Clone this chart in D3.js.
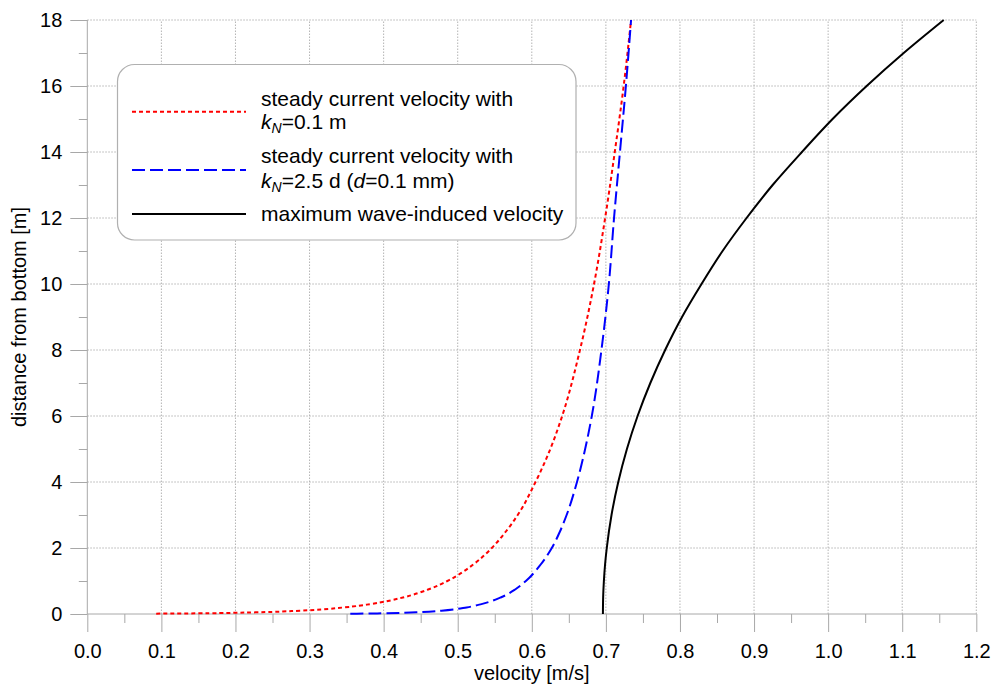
<!DOCTYPE html>
<html>
<head>
<meta charset="utf-8">
<script src="https://cdn.jsdelivr.net/npm/d3@7"></script>
<style>
  body { margin: 0; background: #fff; }
  svg { display: block; font-family: "Liberation Sans", Arial, sans-serif; }
</style>
</head>
<body>
<div id="chart"></div>
<script>
'use strict';

// data ---------------------------------------------------
// steady current velocity, kN = 0.1 m
const zRed   = [0.0106, 0.02, 0.05, 0.1, 0.2, 0.3, 0.5, 0.75, 1, 1.5, 2, 2.5, 3, 4, 5, 6, 8, 10, 12, 14, 16, 18]
const vRed   = [0.093, 0.148, 0.227, 0.287, 0.347, 0.382, 0.426, 0.461, 0.486, 0.521, 0.546, 0.565, 0.581, 0.605, 0.625, 0.641, 0.665, 0.684, 0.699, 0.712, 0.724, 0.734]
// steady current velocity, kN = 2.5 d
const zBlue  = [0.0085, 0.01, 0.02, 0.05, 0.1, 0.2, 0.3, 0.5, 0.75, 1, 1.5, 2, 2.5, 3, 4, 5, 6, 8, 10, 12, 14, 16, 18]
const vBlue  = [0.355, 0.364, 0.398, 0.444, 0.478, 0.512, 0.532, 0.558, 0.578, 0.592, 0.612, 0.627, 0.638, 0.647, 0.661, 0.672, 0.681, 0.694, 0.704, 0.711, 0.719, 0.727, 0.734]
// maximum wave-induced velocity
const zBlack = [0, 0.5, 1, 1.5, 2, 3, 4, 5, 6, 7, 8, 9, 10, 11, 12, 13, 14, 15, 16, 17, 18]
const vBlack = [0.696, 0.6963, 0.6973, 0.6989, 0.7012, 0.7076, 0.7167, 0.7284, 0.7428, 0.760, 0.780, 0.8028, 0.8291, 0.8575, 0.8899, 0.9251, 0.9646, 1.006, 1.052, 1.102, 1.156]

const xMajor = d3.range(0, 13).map(i => i / 10)
const xMinor = d3.range(0, 12).map(i => i / 10 + 0.05)
const yMajor = d3.range(0, 19, 2)
const yMinor = d3.range(1, 19, 2)

// layout ---------------------
const W = 995, H = 685
const padLeft = 87.3, padRight = 976.3, padTop = 20, padBottom = 614
const axis_color = '#a8a8a8'
const grid_color = '#b4b4b4'

const svg = d3.select('#chart').append('svg')
    .attr('width', W)
    .attr('height', H)

const x = d3.scaleLinear().domain([0, 1.2]).range([padLeft, padRight])
const y = d3.scaleLinear().domain([0, 18]).range([padBottom, padTop])

// grid
const grid = svg.append('g')
grid.selectAll('line.gx').data(xMajor.slice(1)).enter().append('line')
    .attr('x1', d => x(d)).attr('x2', d => x(d))
    .attr('y1', y(0)).attr('y2', y(18))
    .attr('stroke', grid_color).attr('stroke-width', 1).attr('stroke-dasharray', '1.5,1.5')
grid.selectAll('line.gy').data(yMajor.slice(1)).enter().append('line')
    .attr('x1', x(0)).attr('x2', x(1.2))
    .attr('y1', d => y(d)).attr('y2', d => y(d))
    .attr('stroke', grid_color).attr('stroke-width', 1).attr('stroke-dasharray', '1.5,1.5')

// axes
function styleAxis(g) {
    g.select('.domain').remove()
    g.selectAll('line').attr('stroke', axis_color)
    g.selectAll('text').attr('fill', '#000').attr('font-size', 20)
        .attr('font-family', '"Liberation Sans", Arial, sans-serif')
}

svg.append('g').attr('transform', `translate(0,${padBottom})`)
    .call(d3.axisBottom(x).tickValues(xMajor).tickSize(18).tickPadding(12).tickFormat(d3.format('.1f')))
    .call(styleAxis)
svg.append('g').attr('transform', `translate(0,${padBottom})`)
    .call(d3.axisBottom(x).tickValues(xMinor).tickSize(9).tickFormat(''))
    .call(styleAxis)
svg.append('g').attr('transform', `translate(${padLeft},0)`)
    .call(d3.axisLeft(y).tickValues(yMajor).tickSize(17).tickPadding(8).tickFormat(d3.format('d')))
    .call(styleAxis)
svg.append('g').attr('transform', `translate(${padLeft},0)`)
    .call(d3.axisLeft(y).tickValues(yMinor).tickSize(8.5).tickFormat(''))
    .call(styleAxis)

// axis lines
svg.append('line').attr('x1', padLeft).attr('x2', padLeft).attr('y1', padTop).attr('y2', padBottom)
    .attr('stroke', axis_color)
svg.append('line').attr('x1', padLeft).attr('x2', padRight).attr('y1', padBottom).attr('y2', padBottom)
    .attr('stroke', axis_color)

// axis titles
svg.append('text')
    .attr('x', (padLeft + padRight) / 2).attr('y', 680)
    .attr('text-anchor', 'middle').attr('font-size', 20)
    .text('velocity [m/s]')
svg.append('text')
    .attr('transform', `translate(26,${(padTop + padBottom) / 2}) rotate(-90)`)
    .attr('text-anchor', 'middle').attr('font-size', 20)
    .text('distance from bottom [m]')

// curves
const line = d3.line().x(d => x(d[0])).y(d => y(d[1])).curve(d3.curveMonotoneY)
const series = [
    {v: vRed,   z: zRed,   color: '#ff0000', dash: '4,3'},
    {v: vBlue,  z: zBlue,  color: '#0000ff', dash: '13,5'},
    {v: vBlack, z: zBlack, color: '#000000', dash: null}
]
svg.append('g').selectAll('path').data(series).enter().append('path')
    .attr('d', s => line(s.v.map((v, i) => [v, s.z[i]])))
    .attr('fill', 'none')
    .attr('stroke', s => s.color)
    .attr('stroke-width', 2)
    .attr('stroke-dasharray', s => s.dash)

// legend ---------------------
const lg = svg.append('g')
lg.append('rect')
    .attr('x', 117.5).attr('y', 64.5).attr('width', 458.5).attr('height', 175.5)
    .attr('rx', 17).attr('ry', 17)
    .attr('fill', '#fff').attr('stroke', '#b0b0b0').attr('stroke-width', 1.2)

const legendRows = [
    {ly: 111.7, color: '#ff0000', dash: '4,3'},
    {ly: 170,   color: '#0000ff', dash: '13,5'},
    {ly: 214,   color: '#000000', dash: null}
]
lg.selectAll('line').data(legendRows).enter().append('line')
    .attr('x1', 132).attr('x2', 246)
    .attr('y1', d => d.ly).attr('y2', d => d.ly)
    .attr('stroke', d => d.color).attr('stroke-width', 2)
    .attr('stroke-dasharray', d => d.dash)

const tx = 261
function addText(yy) {
    return lg.append('text').attr('x', tx).attr('y', yy).attr('font-size', 21)
}
addText(105.7).text('steady current velocity with')
let t = addText(128.8)
t.append('tspan').attr('font-style', 'italic').text('k')
t.append('tspan').attr('font-style', 'italic').attr('font-size', 14).attr('dy', 4).text('N')
t.append('tspan').attr('dy', -4).text('=0.1 m')

addText(163.3).text('steady current velocity with')
t = addText(187.7)
t.append('tspan').attr('font-style', 'italic').text('k')
t.append('tspan').attr('font-style', 'italic').attr('font-size', 14).attr('dy', 4).text('N')
t.append('tspan').attr('dy', -4).text('=2.5 d (')
t.append('tspan').attr('font-style', 'italic').text('d')
t.append('tspan').text('=0.1 mm)')

addText(221).text('maximum wave-induced velocity')
</script>
</body>
</html>
